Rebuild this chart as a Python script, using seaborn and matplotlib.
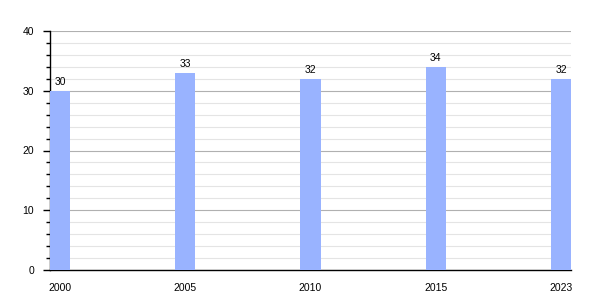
import matplotlib
matplotlib.use("Agg")
import matplotlib.pyplot as plt
import seaborn as sns
import pandas as pd
from matplotlib.ticker import MultipleLocator

years = ["2000", "2005", "2010", "2015", "2023"]
values = [30, 33, 32, 34, 32]

sns.set_theme(style="white")
plt.rcParams['font.family'] = ['Liberation Sans', 'DejaVu Sans']

df = pd.DataFrame({"year": years, "value": values})

fig = plt.figure(figsize=(6, 3), dpi=100)
ax = fig.add_axes([50/600, 30/300, 521/600, 239/300])

sns.barplot(data=df, x="year", y="value", color="#99b3ff", width=0.16,
            saturation=1, ax=ax, zorder=3, linewidth=0, edgecolor="none")

ax.set_xlim(-0.08, 4.08)
ax.set_ylim(0, 40)
ax.yaxis.set_major_locator(MultipleLocator(10))
ax.yaxis.set_minor_locator(MultipleLocator(2))
ax.grid(axis="y", which="major", color="#b0b0b0", linewidth=0.8, zorder=0)
ax.grid(axis="y", which="minor", color="#e4e4e4", linewidth=0.8, zorder=0)
ax.set_axisbelow(True)

for s in ["top", "right"]:
    ax.spines[s].set_visible(False)
for s in ["left", "bottom"]:
    ax.spines[s].set_color("black")
    ax.spines[s].set_linewidth(1)

ax.tick_params(axis="y", which="major", left=True, length=5, width=1, color="black",
               labelsize=7.5, pad=6.5, labelcolor="black")
ax.tick_params(axis="y", which="minor", left=True, length=3, width=1, color="black")
ax.tick_params(axis="x", which="both", bottom=False, labelsize=7.5, pad=3.5, labelcolor="black")
ax.set_xlabel("")
ax.set_ylabel("")

for c in ax.containers:
    ax.bar_label(c, labels=[str(v) for v in values], fontsize=7.5, padding=2.5, color="black")

fig.savefig("out.png", dpi=100)
